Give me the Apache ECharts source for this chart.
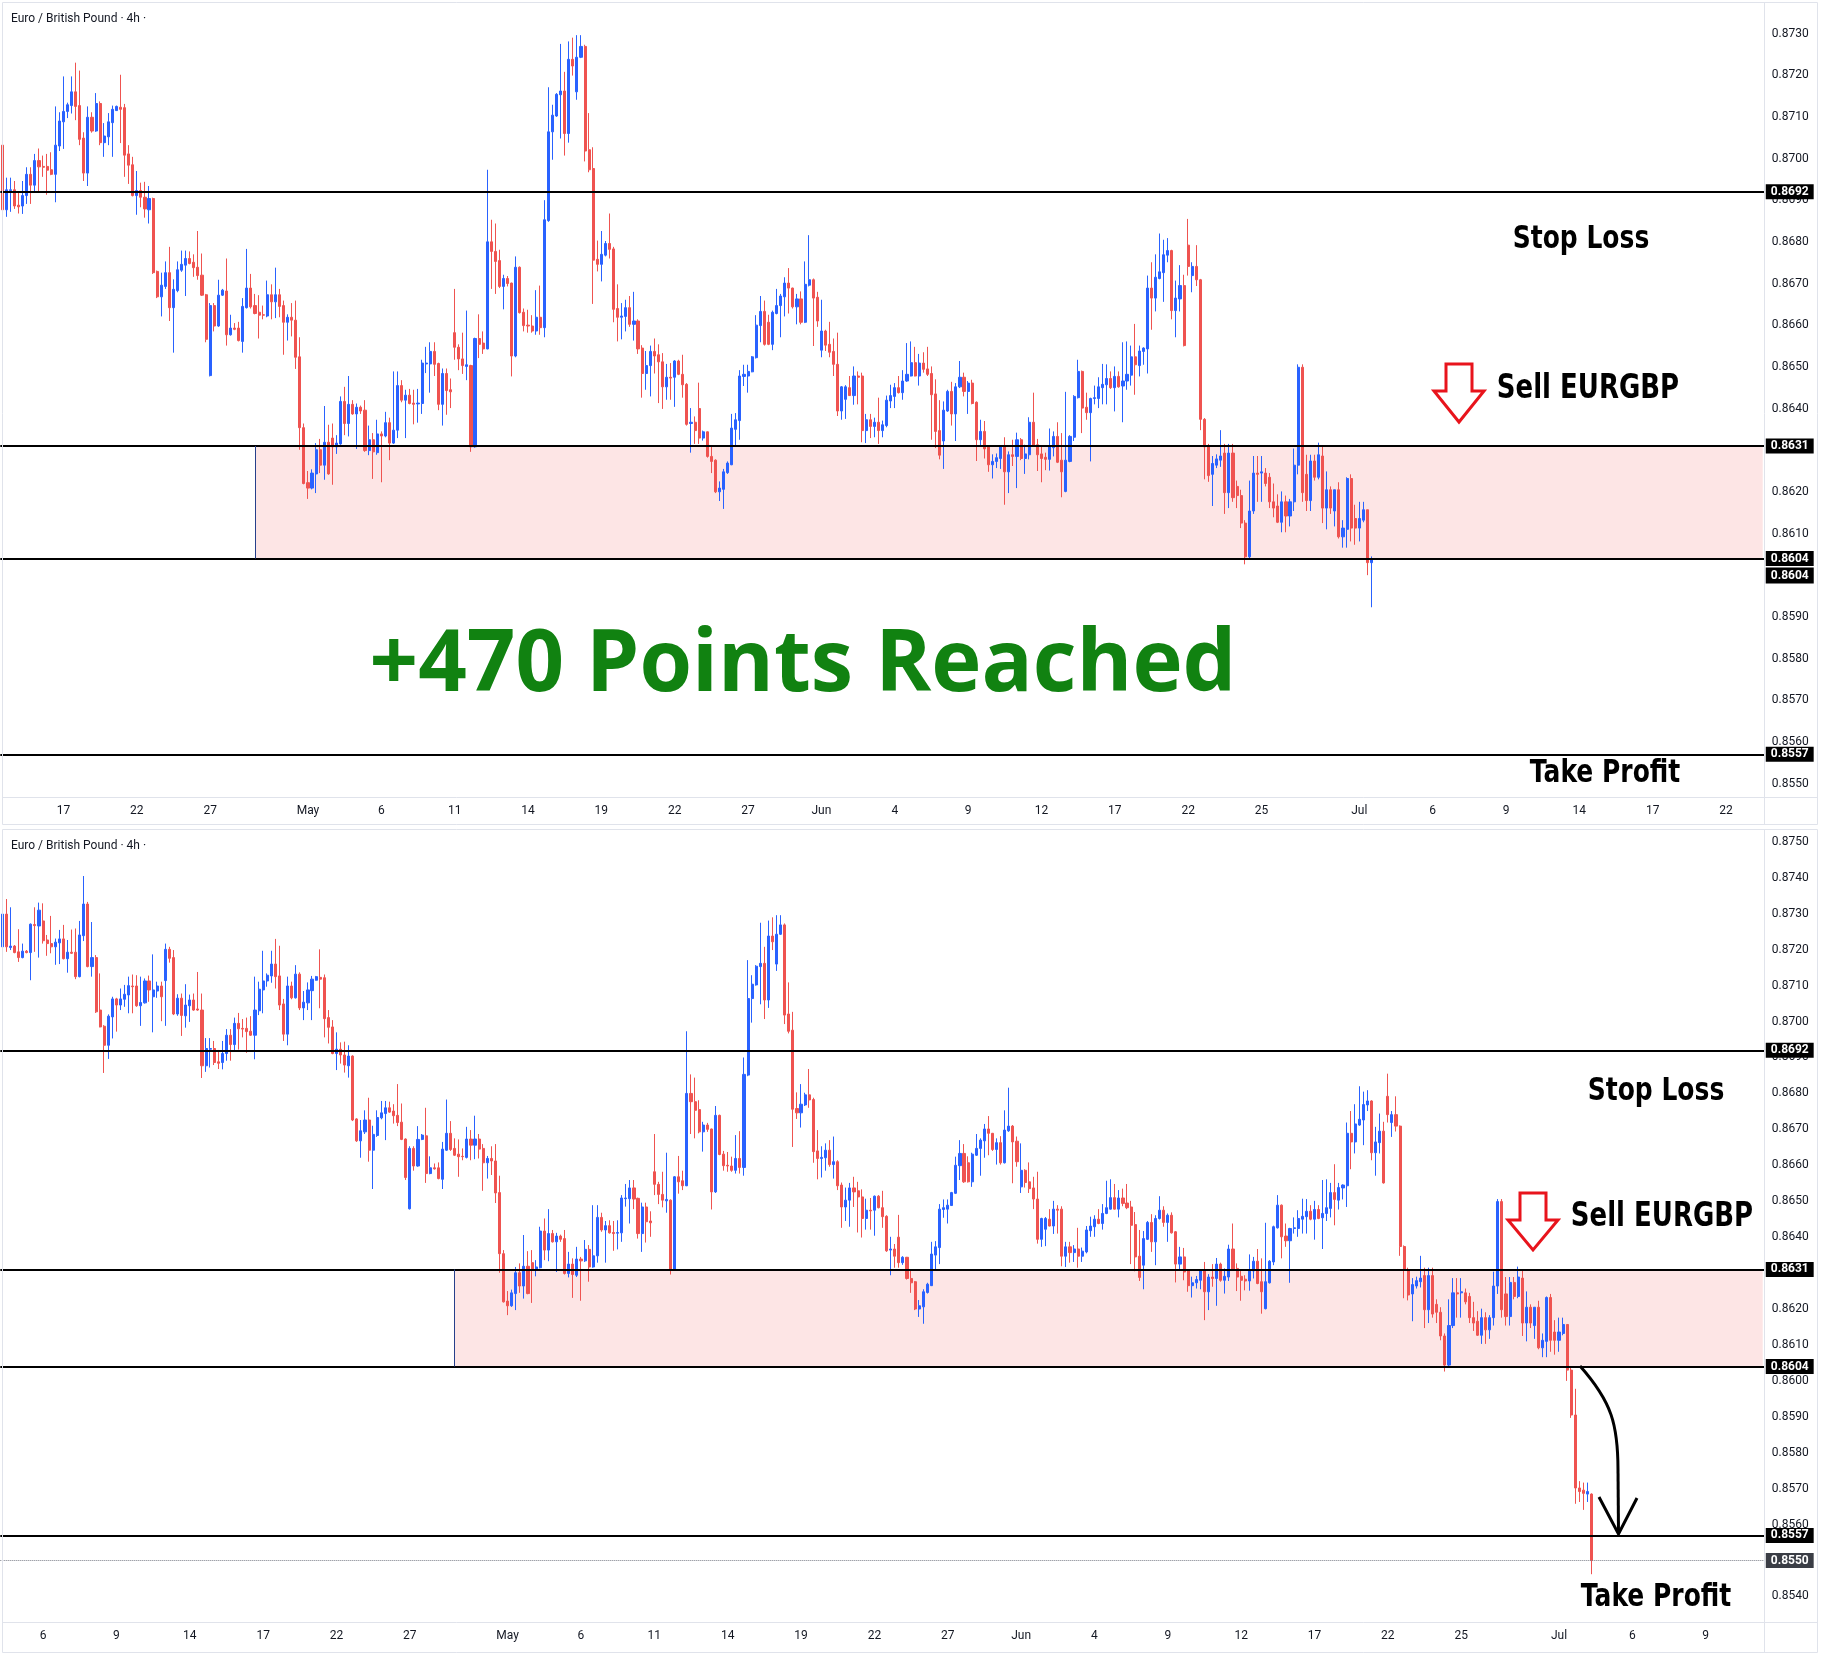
<!DOCTYPE html>
<html>
<head>
<meta charset="utf-8">
<title>EURGBP 4h - Sell setup</title>
<script src="https://cdn.jsdelivr.net/npm/echarts@6/dist/echarts.min.js"></script>
<style>
html, body { margin: 0; padding: 0; background: #ffffff; }
#chart { width: 1826px; height: 1656px; }
</style>
</head>
<body>
<div id="chart"></div>
<script>
/* 4h bars (first bar = Apr 2, 3rd session bar) */
var openP = [
 0.87208,0.87299,0.87206,0.87210,0.87194,0.87178,0.87196,0.87192,0.87270,0.87266,
 0.87280,0.87227,0.87217,0.87208,0.87219,0.87230,0.87175,0.87193,0.87193,0.87125,
 0.87239,0.87327,0.87153,0.87178,0.87032,0.86987,0.86934,0.87013,0.87063,0.87046,
 0.87062,0.87074,0.87099,0.87099,0.87044,0.87052,0.87113,0.87069,0.87085,0.87099,
 0.87114,0.87201,0.87178,0.87021,0.87065,0.87016,0.87044,0.87060,0.87035,0.87032,
 0.86877,0.86923,0.86925,0.86888,0.86886,0.86911,0.86962,0.86936,0.86995,0.86981,
 0.86981,0.86973,0.86962,0.87030,0.87088,0.87113,0.87127,0.87160,0.87127,0.87049,
 0.86965,0.87099,0.87066,0.87132,0.87038,0.87052,0.87086,0.87115,0.87123,0.87122,
 0.87011,0.86985,0.86911,0.86923,0.86907,0.86877,0.86904,0.86729,0.86668,0.86693,
 0.86726,0.86642,0.86683,0.86732,0.86744,0.86760,0.86751,0.86739,0.86720,0.86673,
 0.86479,0.86647,0.86598,0.86672,0.86682,0.86577,0.86593,0.86593,0.86561,0.86642,
 0.86689,0.86647,0.86631,0.86625,0.86622,0.86673,0.86656,0.86673,0.86647,0.86607,
 0.86619,0.86612,0.86524,0.86354,0.86222,0.86209,0.86243,0.86301,0.86264,0.86319,
 0.86329,0.86308,0.86315,0.86417,0.86364,0.86410,0.86387,0.86403,0.86396,0.86299,
 0.86325,0.86294,0.86339,0.86334,0.86366,0.86317,0.86348,0.86455,0.86420,0.86432,
 0.86413,0.86411,0.86412,0.86507,0.86507,0.86537,0.86508,0.86410,0.86484,0.86445,
 0.86582,0.86547,0.86519,0.86501,0.86503,0.86308,0.86568,0.86557,0.86543,0.86800,
 0.86777,0.86755,0.86693,0.86712,0.86701,0.86526,0.86739,0.86631,0.86600,0.86598,
 0.86586,0.86619,0.86594,0.86851,0.87064,0.87102,0.87153,0.87162,0.87060,0.87238,
 0.87160,0.87243,0.87269,0.87021,0.86976,0.86758,0.86746,0.86768,0.86796,0.86783,
 0.86640,0.86619,0.86621,0.86642,0.86602,0.86610,0.86545,0.86484,0.86503,0.86537,
 0.86529,0.86512,0.86452,0.86475,0.86475,0.86514,0.86482,0.86458,0.86364,0.86367,
 0.86400,0.86329,0.86344,0.86285,0.86276,0.86200,0.86206,0.86246,0.86265,0.86350,
 0.86371,0.86477,0.86478,0.86488,0.86522,0.86599,0.86633,0.86607,0.86554,0.86628,
 0.86647,0.86668,0.86701,0.86689,0.86644,0.86663,0.86607,0.86696,0.86709,0.86667,
 0.86540,0.86586,0.86554,0.86537,0.86506,0.86394,0.86422,0.86450,0.86431,0.86478,
 0.86478,0.86347,0.86373,0.86357,0.86367,0.86347,0.86359,0.86418,0.86429,0.86450,
 0.86438,0.86466,0.86478,0.86510,0.86478,0.86509,0.86495,0.86484,0.86435,0.86347,
 0.86322,0.86394,0.86441,0.86387,0.86452,0.86475,0.86441,0.86461,0.86415,0.86325,
 0.86345,0.86308,0.86265,0.86273,0.86280,0.86308,0.86248,0.86289,0.86285,0.86325,
 0.86280,0.86289,0.86367,0.86313,0.86291,0.86283,0.86278,0.86306,0.86333,0.86276,
 0.86201,0.86273,0.86331,0.86426,0.86489,0.86403,0.86390,0.86424,0.86424,0.86450,
 0.86457,0.86472,0.86450,0.86477,0.86454,0.86466,0.86480,0.86524,0.86503,0.86537,
 0.86543,0.86689,0.86665,0.86712,0.86726,0.86768,0.86779,0.86635,0.86663,0.86695,
 0.86792,0.86719,0.86741,0.86709,0.86374,0.86308,0.86242,0.86264,0.86276,0.86293,
 0.86198,0.86293,0.86213,0.86191,0.86125,0.86044,0.86154,0.86245,0.86245,0.86245,
 0.86235,0.86176,0.86166,0.86127,0.86176,0.86142,0.86176,0.86264,0.86499,0.86242,
 0.86179,0.86274,0.86235,0.86286,0.86161,0.86205,0.86154,0.86205,0.86092,0.86110,
 0.86232,0.86136,0.86113,0.86132,0.86157,0.86030,0.85905,0.85702,0.85696,0.85685,
 0.85685
];
var highP = [
 0.87333,0.87341,0.87318,0.87213,0.87257,0.87217,0.87199,0.87273,0.87318,0.87331,
 0.87329,0.87241,0.87294,0.87231,0.87255,0.87269,0.87227,0.87256,0.87259,0.87280,
 0.87405,0.87333,0.87277,0.87185,0.87134,0.86990,0.87020,0.87069,0.87066,0.87092,
 0.87102,0.87125,0.87131,0.87129,0.87125,0.87120,0.87128,0.87187,0.87111,0.87111,
 0.87217,0.87208,0.87199,0.87076,0.87078,0.87104,0.87075,0.87078,0.87138,0.87078,
 0.86954,0.86954,0.86946,0.86921,0.86946,0.86979,0.86979,0.87011,0.87024,0.87007,
 0.87011,0.87015,0.87125,0.87111,0.87197,0.87134,0.87197,0.87230,0.87211,0.87063,
 0.87125,0.87111,0.87157,0.87137,0.87085,0.87109,0.87127,0.87127,0.87201,0.87131,
 0.87032,0.87004,0.86970,0.86942,0.86944,0.86934,0.86906,0.86731,0.86726,0.86753,
 0.86788,0.86710,0.86753,0.86779,0.86779,0.86777,0.86770,0.86826,0.86772,0.86675,
 0.86653,0.86653,0.86709,0.86687,0.86760,0.86625,0.86605,0.86608,0.86665,0.86783,
 0.86723,0.86675,0.86672,0.86647,0.86707,0.86698,0.86738,0.86687,0.86659,0.86626,
 0.86653,0.86659,0.86571,0.86364,0.86250,0.86254,0.86317,0.86327,0.86406,0.86361,
 0.86364,0.86336,0.86429,0.86452,0.86478,0.86420,0.86412,0.86407,0.86420,0.86359,
 0.86341,0.86373,0.86345,0.86392,0.86378,0.86489,0.86489,0.86468,0.86445,0.86447,
 0.86445,0.86447,0.86517,0.86548,0.86559,0.86559,0.86510,0.86496,0.86496,0.86472,
 0.86687,0.86554,0.86582,0.86635,0.86505,0.86570,0.86626,0.86585,0.86973,0.86853,
 0.86844,0.86781,0.86721,0.86718,0.86702,0.86765,0.86741,0.86640,0.86637,0.86624,
 0.86684,0.86695,0.86900,0.87171,0.87129,0.87157,0.87275,0.87208,0.87281,0.87290,
 0.87296,0.87296,0.87273,0.87109,0.87027,0.86803,0.86826,0.86802,0.86868,0.86788,
 0.86698,0.86653,0.86661,0.86670,0.86680,0.86614,0.86552,0.86538,0.86551,0.86568,
 0.86554,0.86533,0.86507,0.86509,0.86516,0.86517,0.86529,0.86461,0.86401,0.86381,
 0.86462,0.86347,0.86345,0.86308,0.86278,0.86225,0.86255,0.86273,0.86387,0.86389,
 0.86492,0.86505,0.86505,0.86526,0.86624,0.86670,0.86659,0.86625,0.86635,0.86687,
 0.86675,0.86715,0.86737,0.86690,0.86675,0.86681,0.86753,0.86816,0.86712,0.86680,
 0.86661,0.86589,0.86608,0.86568,0.86582,0.86454,0.86456,0.86478,0.86501,0.86489,
 0.86486,0.86387,0.86387,0.86378,0.86426,0.86371,0.86431,0.86457,0.86461,0.86478,
 0.86492,0.86557,0.86561,0.86548,0.86531,0.86535,0.86548,0.86501,0.86470,0.86420,
 0.86417,0.86445,0.86464,0.86461,0.86514,0.86486,0.86466,0.86469,0.86417,0.86373,
 0.86370,0.86310,0.86290,0.86292,0.86310,0.86331,0.86297,0.86325,0.86342,0.86329,
 0.86313,0.86379,0.86438,0.86327,0.86308,0.86294,0.86352,0.86345,0.86367,0.86341,
 0.86440,0.86336,0.86432,0.86517,0.86491,0.86438,0.86426,0.86455,0.86475,0.86507,
 0.86506,0.86489,0.86501,0.86489,0.86559,0.86561,0.86551,0.86603,0.86551,0.86547,
 0.86719,0.86751,0.86770,0.86820,0.86805,0.86809,0.86781,0.86707,0.86744,0.86721,
 0.86855,0.86751,0.86792,0.86711,0.86377,0.86315,0.86286,0.86290,0.86348,0.86315,
 0.86315,0.86315,0.86227,0.86205,0.86132,0.86227,0.86286,0.86286,0.86286,0.86257,
 0.86245,0.86220,0.86194,0.86201,0.86191,0.86183,0.86304,0.86506,0.86506,0.86289,
 0.86289,0.86289,0.86318,0.86311,0.86249,0.86213,0.86205,0.86223,0.86132,0.86235,
 0.86242,0.86169,0.86176,0.86176,0.86157,0.86037,0.85978,0.85721,0.85717,0.85717,
 0.85687
];
var lowP = [
 0.87157,0.87194,0.87199,0.87190,0.87166,0.87176,0.87190,0.87115,0.87194,0.87178,
 0.87217,0.87183,0.87190,0.87158,0.87160,0.87173,0.87136,0.87188,0.87118,0.87123,
 0.87224,0.87151,0.87125,0.87024,0.86984,0.86857,0.86896,0.86953,0.86972,0.87032,
 0.87041,0.87023,0.87023,0.87041,0.86988,0.87050,0.87055,0.86970,0.87066,0.87001,
 0.86988,0.87164,0.87018,0.87016,0.86960,0.86983,0.86999,0.87030,0.87030,0.86843,
 0.86860,0.86872,0.86879,0.86868,0.86867,0.86891,0.86891,0.86919,0.86922,0.86956,
 0.86913,0.86960,0.86895,0.87018,0.87023,0.87097,0.87108,0.87092,0.87032,0.86946,
 0.86934,0.87062,0.87064,0.87032,0.87004,0.87032,0.87004,0.87114,0.87037,0.86956,
 0.86939,0.86909,0.86865,0.86883,0.86858,0.86844,0.86723,0.86665,0.86621,0.86687,
 0.86610,0.86534,0.86679,0.86728,0.86670,0.86746,0.86716,0.86709,0.86670,0.86559,
 0.86477,0.86585,0.86596,0.86670,0.86551,0.86575,0.86588,0.86561,0.86534,0.86640,
 0.86640,0.86626,0.86568,0.86614,0.86619,0.86614,0.86617,0.86619,0.86529,0.86563,
 0.86573,0.86495,0.86301,0.86218,0.86183,0.86206,0.86197,0.86245,0.86229,0.86241,
 0.86217,0.86291,0.86313,0.86336,0.86333,0.86385,0.86303,0.86387,0.86296,0.86288,
 0.86231,0.86289,0.86223,0.86331,0.86276,0.86315,0.86329,0.86415,0.86329,0.86410,
 0.86362,0.86366,0.86387,0.86485,0.86438,0.86478,0.86396,0.86359,0.86385,0.86401,
 0.86517,0.86492,0.86483,0.86468,0.86296,0.86306,0.86521,0.86531,0.86542,0.86687,
 0.86675,0.86689,0.86638,0.86693,0.86477,0.86523,0.86628,0.86585,0.86582,0.86582,
 0.86577,0.86577,0.86571,0.86848,0.86997,0.87100,0.87048,0.87007,0.87038,0.87199,
 0.87141,0.87241,0.86993,0.86967,0.86651,0.86729,0.86705,0.86765,0.86760,0.86607,
 0.86561,0.86566,0.86585,0.86596,0.86563,0.86531,0.86426,0.86445,0.86429,0.86484,
 0.86413,0.86399,0.86421,0.86421,0.86404,0.86480,0.86426,0.86359,0.86294,0.86315,
 0.86315,0.86323,0.86282,0.86245,0.86197,0.86178,0.86159,0.86243,0.86264,0.86308,
 0.86325,0.86454,0.86438,0.86487,0.86520,0.86559,0.86551,0.86552,0.86540,0.86626,
 0.86571,0.86621,0.86628,0.86640,0.86602,0.86602,0.86605,0.86693,0.86550,0.86596,
 0.86523,0.86538,0.86523,0.86478,0.86382,0.86373,0.86375,0.86430,0.86409,0.86410,
 0.86319,0.86317,0.86329,0.86331,0.86315,0.86331,0.86355,0.86401,0.86401,0.86436,
 0.86421,0.86464,0.86477,0.86477,0.86455,0.86486,0.86478,0.86325,0.86305,0.86278,
 0.86255,0.86392,0.86359,0.86322,0.86449,0.86429,0.86387,0.86410,0.86274,0.86310,
 0.86280,0.86248,0.86232,0.86257,0.86255,0.86169,0.86197,0.86262,0.86209,0.86276,
 0.86243,0.86278,0.86308,0.86250,0.86223,0.86252,0.86251,0.86285,0.86269,0.86187,
 0.86199,0.86271,0.86322,0.86424,0.86341,0.86373,0.86273,0.86410,0.86401,0.86410,
 0.86410,0.86447,0.86393,0.86450,0.86367,0.86445,0.86455,0.86433,0.86477,0.86505,
 0.86484,0.86589,0.86633,0.86710,0.86656,0.86751,0.86614,0.86571,0.86633,0.86549,
 0.86719,0.86679,0.86694,0.86348,0.86230,0.86224,0.86166,0.86257,0.86260,0.86147,
 0.86161,0.86176,0.86161,0.86113,0.86026,0.86037,0.86147,0.86176,0.86176,0.86213,
 0.86161,0.86139,0.86125,0.86103,0.86103,0.86117,0.86154,0.86242,0.86176,0.86154,
 0.86154,0.86227,0.86230,0.86125,0.86110,0.86147,0.86117,0.86088,0.86066,0.86066,
 0.86081,0.86073,0.86081,0.86127,0.86000,0.85897,0.85658,0.85663,0.85641,0.85663,
 0.85462
];
var closeP = [
 0.87299,0.87208,0.87210,0.87192,0.87178,0.87196,0.87192,0.87271,0.87267,0.87310,
 0.87225,0.87217,0.87208,0.87221,0.87230,0.87175,0.87193,0.87190,0.87125,0.87241,
 0.87327,0.87153,0.87178,0.87027,0.86985,0.86934,0.87015,0.87063,0.87046,0.87063,
 0.87076,0.87100,0.87097,0.87044,0.87053,0.87113,0.87088,0.87088,0.87099,0.87069,
 0.87201,0.87176,0.87021,0.87065,0.87017,0.87046,0.87060,0.87032,0.87032,0.86877,
 0.86925,0.86925,0.86886,0.86884,0.86911,0.86962,0.86936,0.86995,0.86980,0.86979,
 0.86972,0.86962,0.87032,0.87090,0.87113,0.87129,0.87160,0.87125,0.87046,0.86965,
 0.87099,0.87066,0.87132,0.87038,0.87054,0.87088,0.87118,0.87125,0.87118,0.87008,
 0.86984,0.86911,0.86923,0.86907,0.86879,0.86904,0.86726,0.86668,0.86696,0.86726,
 0.86642,0.86686,0.86733,0.86746,0.86760,0.86748,0.86738,0.86719,0.86672,0.86566,
 0.86647,0.86598,0.86672,0.86684,0.86577,0.86593,0.86590,0.86563,0.86645,0.86689,
 0.86644,0.86628,0.86624,0.86624,0.86673,0.86656,0.86673,0.86645,0.86607,0.86619,
 0.86612,0.86523,0.86354,0.86220,0.86209,0.86245,0.86301,0.86264,0.86319,0.86243,
 0.86308,0.86317,0.86417,0.86364,0.86410,0.86387,0.86403,0.86394,0.86299,0.86325,
 0.86296,0.86339,0.86334,0.86366,0.86317,0.86348,0.86455,0.86420,0.86432,0.86412,
 0.86410,0.86413,0.86509,0.86509,0.86537,0.86506,0.86410,0.86484,0.86443,0.86440,
 0.86547,0.86519,0.86503,0.86505,0.86308,0.86568,0.86554,0.86543,0.86800,0.86777,
 0.86753,0.86693,0.86712,0.86700,0.86526,0.86739,0.86630,0.86599,0.86598,0.86586,
 0.86619,0.86594,0.86853,0.87064,0.87104,0.87154,0.87162,0.87060,0.87238,0.87222,
 0.87243,0.87269,0.87018,0.86973,0.86756,0.86746,0.86770,0.86796,0.86782,0.86638,
 0.86619,0.86622,0.86642,0.86602,0.86610,0.86543,0.86484,0.86503,0.86537,0.86526,
 0.86512,0.86452,0.86475,0.86473,0.86514,0.86482,0.86457,0.86362,0.86367,0.86347,
 0.86329,0.86344,0.86285,0.86273,0.86200,0.86209,0.86248,0.86269,0.86353,0.86373,
 0.86478,0.86482,0.86489,0.86524,0.86600,0.86633,0.86554,0.86554,0.86631,0.86647,
 0.86670,0.86701,0.86689,0.86644,0.86663,0.86607,0.86698,0.86709,0.86665,0.86610,
 0.86586,0.86552,0.86535,0.86506,0.86394,0.86452,0.86452,0.86431,0.86478,0.86475,
 0.86347,0.86373,0.86357,0.86367,0.86347,0.86361,0.86420,0.86431,0.86450,0.86438,
 0.86466,0.86482,0.86510,0.86478,0.86509,0.86494,0.86482,0.86433,0.86345,0.86288,
 0.86396,0.86441,0.86387,0.86452,0.86475,0.86441,0.86461,0.86412,0.86325,0.86345,
 0.86303,0.86265,0.86273,0.86282,0.86308,0.86248,0.86289,0.86285,0.86325,0.86280,
 0.86291,0.86367,0.86310,0.86289,0.86280,0.86278,0.86308,0.86333,0.86271,0.86248,
 0.86276,0.86333,0.86429,0.86489,0.86401,0.86390,0.86424,0.86426,0.86452,0.86458,
 0.86472,0.86450,0.86477,0.86452,0.86466,0.86482,0.86524,0.86505,0.86538,0.86545,
 0.86689,0.86665,0.86715,0.86728,0.86769,0.86779,0.86635,0.86665,0.86695,0.86551,
 0.86741,0.86741,0.86709,0.86374,0.86308,0.86239,0.86268,0.86279,0.86286,0.86198,
 0.86293,0.86186,0.86191,0.86125,0.86044,0.86154,0.86245,0.86242,0.86248,0.86220,
 0.86176,0.86161,0.86127,0.86176,0.86142,0.86176,0.86264,0.86499,0.86198,0.86179,
 0.86274,0.86235,0.86289,0.86161,0.86205,0.86161,0.86205,0.86092,0.86113,0.86232,
 0.86113,0.86113,0.86136,0.86157,0.86030,0.85905,0.85702,0.85692,0.85687,0.85692,
 0.85500
];

// the still-forming bar when the upper snapshot was taken: open, high, low, close
var topLastBar = [0.86030, 0.86045, 0.85923, 0.86040];
var topFirstBar = 49;     // first bar shown in the upper panel
var topLastIndex = 385;   // bar that was still forming in the upper panel
var slots = 433;          // bar slots across each panel incl. empty space on the right
var zoneStartBar = 111;   // where the sell zone box begins

// levels
var stopLoss = 0.8692;
var sellLevel = 0.8631;
var zoneLow = 0.8604;
var takeProfit = 0.8557;

// date labels: trading day number (Apr 6 = 0) and text
var tickDays = [0, 3, 6, 9, 12, 15, 19, 22, 25, 28, 31, 34, 37, 40, 43, 46, 49, 52, 55, 58, 62, 65, 68, 71, 74, 77];
var tickText = ['6','9','14','17','22','27','May','6','11','14','19','22','27','Jun','4','9','12','17','22','25','Jul','6','9','14','17','22'];
var firstDayBar = 10;     // bar index of the first Apr 6 bar
var barsPerDay = 6;

// price scale labels
var topTicks = [0.8550,0.8560,0.8570,0.8580,0.8590,0.8600,0.8610,0.8620,0.8630,0.8640,0.8650,
                0.8660,0.8670,0.8680,0.8690,0.8700,0.8710,0.8720,0.8730];
var bottomTicks = [0.8540,0.8550,0.8560,0.8570,0.8580,0.8590,0.8600,0.8610,0.8620,0.8630,0.8640,
                   0.8650,0.8660,0.8670,0.8680,0.8690,0.8700,0.8710,0.8720,0.8730,0.8740,0.8750];

var UP = '#2962ff';
var DOWN = '#ef5350';
var BAR_PX = 4.075;

function candle(i) {
    return [openP[i], closeP[i], lowP[i], highP[i]];
}

var labelAt = {};
for (var k = 0; k < tickDays.length; k++) {
    labelAt[firstDayBar + barsPerDay * tickDays[k]] = tickText[k];
}

/* upper panel: bars topFirstBar .. topLastIndex */
var topCats = [];
for (var b = topFirstBar; b < topFirstBar + slots; b++) topCats.push(String(b));
var topData = [];
for (var b = topFirstBar; b < topLastIndex; b++) topData.push(candle(b));
topData.push([topLastBar[0], topLastBar[3], topLastBar[2], topLastBar[1]]);

/* lower panel: all bars */
var bottomCats = [];
for (var b = 0; b < slots; b++) bottomCats.push(String(b));
var bottomData = [];
for (var b = 0; b < openP.length; b++) bottomData.push(candle(b));

function tagLabel(bg) {
    return {
        show: true, position: 'end', distance: 1,
        formatter: function (p) { return Number(p.value).toFixed(4); },
        backgroundColor: bg, color: '#ffffff', fontWeight: 'bold',
        fontSize: 12, fontFamily: 'Roboto', padding: [2, 5, 1, 5]
    };
}

function levelLines(extra) {
    var solid = { color: '#000000', width: 2, type: 'solid' };
    var list = [stopLoss, sellLevel, zoneLow, takeProfit].map(function (v) {
        return { yAxis: v, lineStyle: solid, label: tagLabel('#000000') };
    });
    // left edge of the sell zone box
    list.push([
        { xAxis: String(zoneStartBar), yAxis: sellLevel, lineStyle: { color: '#27408b', width: 1, type: 'solid' }, label: { show: false } },
        { xAxis: String(zoneStartBar), yAxis: zoneLow }
    ]);
    return list.concat(extra);
}

function xAxisFor(gridIndex, cats) {
    return {
        type: 'category', gridIndex: gridIndex, data: cats, boundaryGap: true,
        axisLine: { show: false }, axisTick: { show: false }, splitLine: { show: false },
        axisLabel: {
            interval: function (idx, val) { return labelAt[val] !== undefined; },
            formatter: function (val) { return labelAt[val] || ''; },
            color: '#131722', fontSize: 12, fontFamily: 'Roboto', margin: 8
        }
    };
}

function yAxisFor(gridIndex, min, max, ticks) {
    return {
        type: 'value', gridIndex: gridIndex, position: 'right', min: min, max: max, scale: true,
        axisLine: { show: false }, axisTick: { show: false }, splitLine: { show: false },
        axisLabel: {
            customValues: ticks,
            formatter: function (v) { return v.toFixed(4); },
            color: '#131722', fontSize: 12, fontFamily: 'Roboto', margin: 7
        }
    };
}

function candleSeries(idx, data, lastCat, extraLines, extraPoints) {
    return {
        type: 'candlestick', xAxisIndex: idx, yAxisIndex: idx, data: data,
        barWidth: 2.6, clip: false, silent: true,
        itemStyle: { color: UP, color0: DOWN, borderColor: UP, borderColor0: DOWN, borderWidth: 1 },
        markArea: {
            silent: true, precision: 5,
            itemStyle: { color: 'rgba(239,83,80,0.15)', borderWidth: 0 },
            data: [[{ xAxis: String(zoneStartBar), yAxis: sellLevel }, { xAxis: lastCat, yAxis: zoneLow }]]
        },
        markLine: {
            silent: true, symbol: ['none', 'none'], animation: false, precision: 5,
            data: levelLines(extraLines)
        },
        markPoint: {
            silent: true, animation: false, symbol: 'rect', symbolSize: [48, 16],
            itemStyle: { color: '#000000' },
            label: {
                show: true, position: 'inside', color: '#ffffff', fontWeight: 'bold', fontSize: 12, fontFamily: 'Roboto',
                formatter: function (p) { return Number(p.value).toFixed(4); }
            },
            data: extraPoints
        }
    };
}

function bigText(x, y, text, size, sy, color, family) {
    return {
        type: 'text', x: x, y: y, scaleY: sy, z: 20,
        style: {
            text: text, x: 0, y: 0, fill: color,
            align: 'center', verticalAlign: 'middle',
            textAlign: 'center', textVerticalAlign: 'middle',
            font: 'bold ' + size + 'px ' + family
        }
    };
}

function hollowArrow(pts) {
    return {
        type: 'polygon', z: 20,
        shape: { points: pts },
        style: { fill: '#ffffff', stroke: '#e8141c', lineWidth: 3, lineJoin: 'miter' }
    };
}

function frameLine(x1, y1, x2, y2) {
    return { type: 'line', z: 15, shape: { x1: x1, y1: y1, x2: x2, y2: y2 }, style: { stroke: '#e0e3eb', lineWidth: 1 } };
}

var chart = echarts.init(document.getElementById('chart'), null, { renderer: 'canvas' });

var plotW = slots * BAR_PX;
var labelFont = '12px Roboto';
var topLastCat = topCats[topCats.length - 1];

var option = {
    animation: false,
    backgroundColor: '#ffffff',
    grid: [
        { left: 0.3, top: 4, width: plotW, height: 793 },
        { left: 0.3, top: 830, width: plotW, height: 792 }
    ],
    xAxis: [xAxisFor(0, topCats), xAxisFor(1, bottomCats)],
    yAxis: [
        yAxisFor(0, 0.854676, 0.873708, topTicks),
        yAxisFor(1, 0.853290, 0.875331, bottomTicks)
    ],
    series: [
        // upper: current price tag sits just under the 0.8604 level tag
        candleSeries(0, topData, topLastCat, [], [
            { coord: [topLastCat, topLastBar[3]], value: topLastBar[3], symbolOffset: [27, 17] }
        ]),
        candleSeries(1, bottomData, bottomCats[bottomCats.length - 1], [
            { yAxis: closeP[closeP.length - 1], lineStyle: { color: '#787b86', width: 1, type: 'dotted' },
              label: tagLabel('#3a3d45') }
        ], [])
    ],
    graphic: [
        // panel frames
        frameLine(2.5, 2.5, 1817.5, 2.5),
        frameLine(2.5, 2.5, 2.5, 824.5),
        frameLine(1817.5, 2.5, 1817.5, 824.5),
        frameLine(2.5, 824.5, 1817.5, 824.5),
        frameLine(1764.5, 2.5, 1764.5, 824.5),
        frameLine(2.5, 797.5, 1817.5, 797.5),
        frameLine(2.5, 829.5, 1817.5, 829.5),
        frameLine(2.5, 829.5, 2.5, 1652.5),
        frameLine(1817.5, 829.5, 1817.5, 1652.5),
        frameLine(2.5, 1652.5, 1817.5, 1652.5),
        frameLine(1764.5, 829.5, 1764.5, 1652.5),
        frameLine(2.5, 1622.5, 1817.5, 1622.5),

        // symbol titles
        { type: 'text', x: 11, y: 19, z: 20, style: { text: 'Euro / British Pound \u00b7 4h \u00b7', fill: '#131722',
          font: labelFont, verticalAlign: 'middle', textVerticalAlign: 'middle' } },
        { type: 'text', x: 11, y: 846, z: 20, style: { text: 'Euro / British Pound \u00b7 4h \u00b7', fill: '#131722',
          font: labelFont, verticalAlign: 'middle', textVerticalAlign: 'middle' } },

        // upper panel notes
        bigText(1581, 240, 'Stop Loss', 25, 1.3, '#000000', '"DejaVu Sans"'),
        bigText(1588, 389, 'Sell EURGBP', 26, 1.3, '#000000', '"DejaVu Sans"'),
        bigText(1605, 774, 'Take Profit', 25, 1.3, '#000000', '"DejaVu Sans"'),
        hollowArrow([[1446, 364], [1472, 364], [1472, 391], [1484, 391], [1459, 422], [1434, 391], [1446, 391]]),
        bigText(803, 666, '+470 Points Reached', 85, 1.02, '#118211', '"Open Sans"'),

        // lower panel notes
        bigText(1656, 1092, 'Stop Loss', 25, 1.3, '#000000', '"DejaVu Sans"'),
        bigText(1662, 1217, 'Sell EURGBP', 26, 1.3, '#000000', '"DejaVu Sans"'),
        bigText(1656, 1598, 'Take Profit', 25, 1.3, '#000000', '"DejaVu Sans"'),
        hollowArrow([[1520, 1193], [1546, 1193], [1546, 1220], [1558, 1220], [1533, 1250], [1508, 1220], [1520, 1220]]),

        // hand drawn arrow toward target
        { type: 'bezierCurve', z: 20,
          shape: { x1: 1580, y1: 1366, cpx1: 1612, cpy1: 1402, cpx2: 1618, cpy2: 1425, x2: 1618, y2: 1470 },
          style: { stroke: '#000000', lineWidth: 3, fill: 'none' } },
        { type: 'line', z: 20, shape: { x1: 1618, y1: 1470, x2: 1618.5, y2: 1534 },
          style: { stroke: '#000000', lineWidth: 3 } },
        { type: 'polyline', z: 20, shape: { points: [[1599, 1497], [1618.5, 1534], [1637, 1498]] },
          style: { stroke: '#000000', lineWidth: 3, fill: 'none' } }
    ]
};

chart.setOption(option);
</script>
</body>
</html>
